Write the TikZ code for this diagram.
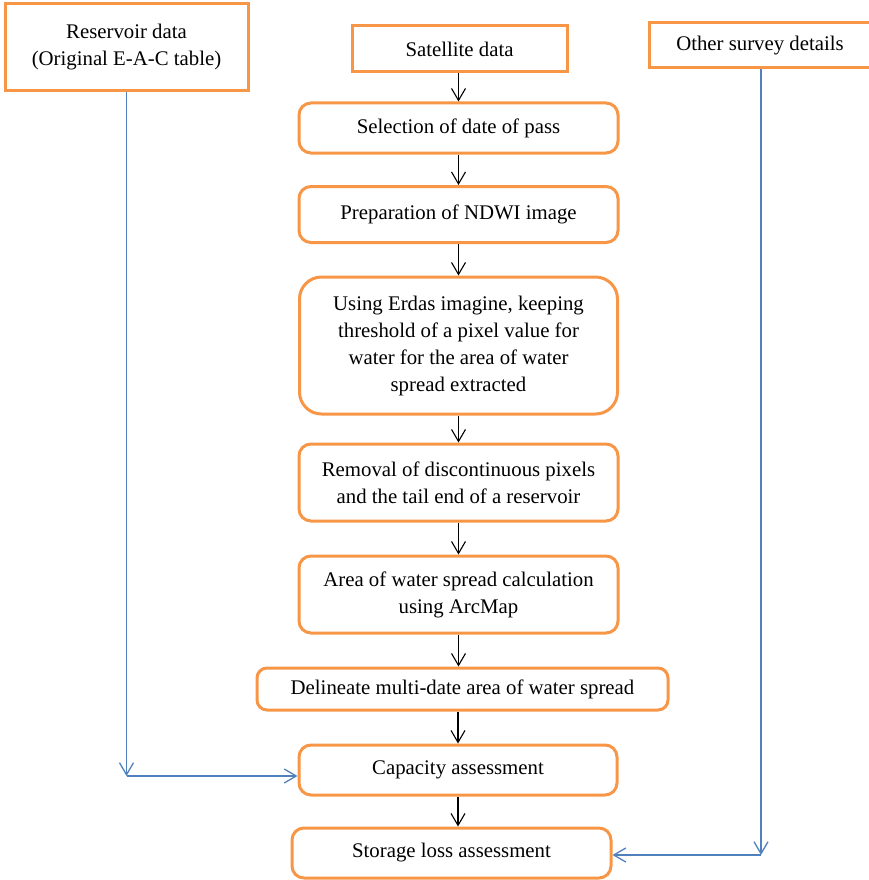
\documentclass[tikz,border=0pt]{standalone}
\usepackage{fontspec}
\setmainfont{Liberation Serif}
\usetikzlibrary{arrows.meta}
\definecolor{boxorange}{HTML}{F79646}
\definecolor{linkblue}{HTML}{4F81BD}
\tikzset{
  box/.style={draw=boxorange, line width=3pt, fill=white, inner sep=2pt, align=center,
    font=\fontsize{20.8}{27}\selectfont, text=black},
  sharpbox/.style={box},
  roundbox/.style={box, rounded corners=12pt},
  flow/.style={draw=black, line width=1.1pt, -{Straight Barb[length=12pt,width=14pt,line width=1.1pt]}},
  link/.style={draw=linkblue, line width=1.3pt, -{Straight Barb[length=12pt,width=14pt,line width=1.3pt]}},
}
\begin{document}
\begin{tikzpicture}[x=1pt,y=-1pt]
\useasboundingbox (0,0) rectangle (869,880);

\node[sharpbox, minimum width=243pt, minimum height=87pt] (res) at (126.5,47.5)
  {Reservoir data\\(Original E-A-C table)};
\node[sharpbox, minimum width=215pt, minimum height=46pt] (sat) at (459.5,49) {Satellite data};
\node[sharpbox, minimum width=222pt, minimum height=45pt] (oth) at (760,45.5) {Other survey details};

\node[roundbox, minimum width=319pt, minimum height=50pt] (sel) at (458.5,128) {\raisebox{-1pt}{Selection of date of pass}};
\node[roundbox, minimum width=319pt, minimum height=56pt] (ndwi) at (458.5,214.5) {Preparation of NDWI image};
\node[roundbox, rounded corners=22pt, minimum width=318pt, minimum height=137pt] (erd) at (458.5,345.5)
  {Using Erdas imagine, keeping\\threshold of a pixel value for\\water for the area of water\\spread extracted};
\node[roundbox, minimum width=319pt, minimum height=77pt] (rem) at (458.5,482.5)
  {Removal of discontinuous pixels\\and the tail end of a reservoir};
\node[roundbox, minimum width=319pt, minimum height=77pt] (area) at (458.5,594.5)
  {Area of water spread calculation\\using ArcMap};
\node[roundbox, rounded corners=10pt, minimum width=411pt, minimum height=42pt] (del) at (462.5,689)
  {\raisebox{-2pt}{Delineate multi-date area of water spread}};
\node[roundbox, minimum width=318pt, minimum height=50pt] (cap) at (458,770) {Capacity assessment};
\node[roundbox, minimum width=319pt, minimum height=50pt] (sto) at (451.5,853) {Storage loss assessment};

\draw[flow] (sat.south -| sel.north) -- (sel.north);
\draw[flow] (sel.south) -- (ndwi.north);
\draw[flow] (ndwi.south) -- (erd.north);
\draw[flow] (erd.south) -- (rem.north);
\draw[flow] (rem.south) -- (area.north);
\draw[flow] (area.south) -- (area.south |- del.north);
\draw[flow] (del.south -| cap.north) -- (cap.north);
\draw[flow] (cap.south) -- (cap.south |- sto.north);

\coordinate (lc) at (res.south |- 0,776);
\coordinate (rc) at (761,855);
\draw[link] (res.south) -- (lc);
\draw[link] (lc) -- (lc -| cap.west);
\draw[link] (oth.south -| rc) -- (rc);
\draw[link] (rc) -- (rc -| sto.east);
\end{tikzpicture}
\end{document}
